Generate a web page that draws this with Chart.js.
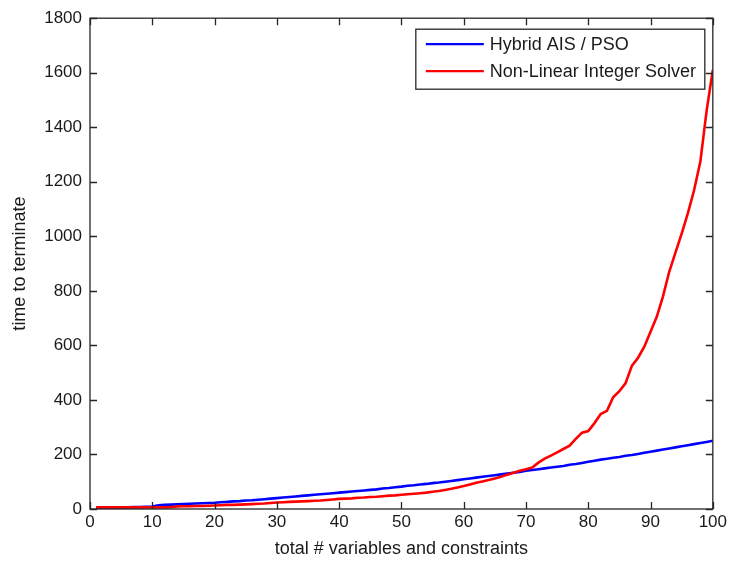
<!DOCTYPE html>
<html>
<head>
<meta charset="utf-8">
<script src="https://cdn.jsdelivr.net/npm/chart.js@4.4.0/dist/chart.umd.min.js"></script>
<style>
  html, body { margin: 0; padding: 0; background: #fff; }
</style>
</head>
<body>
<canvas id="timeChart" width="730" height="563"></canvas>
<script>
// total number of variables and constraints
const problemSize = [
    1, 2, 3, 4, 5, 6, 7, 8, 9, 10,
    11, 12, 13, 14, 15, 16, 17, 18, 19, 20,
    21, 22, 23, 24, 25, 26, 27, 28, 29, 30,
    31, 32, 33, 34, 35, 36, 37, 38, 39, 40,
    41, 42, 43, 44, 45, 46, 47, 48, 49, 50,
    51, 52, 53, 54, 55, 56, 57, 58, 59, 60,
    61, 62, 63, 64, 65, 66, 67, 68, 69, 70,
    71, 72, 73, 74, 75, 76, 77, 78, 79, 80,
    81, 82, 83, 84, 85, 86, 87, 88, 89, 90,
    91, 92, 93, 94, 95, 96, 97, 98, 99, 100
];

// time to terminate, Hybrid AIS / PSO
const hybridTime = [
    5, 5, 5, 6, 6, 6, 7, 7, 8, 9,
    14, 15, 16, 17, 18, 19, 20, 21, 22, 23,
    25, 26, 28, 29, 31, 32, 34, 36, 38, 40,
    42, 44, 46, 48, 50, 52, 54, 56, 58, 60,
    62, 64, 66, 68, 70, 72, 75, 77, 80, 82,
    85, 87, 90, 92, 95, 97, 100, 103, 106, 109,
    112, 115, 118, 121, 124, 127, 130, 133, 136, 140,
    143, 146, 149, 152, 155, 158, 162, 165, 169, 173,
    177, 181, 184, 188, 191, 195, 198, 202, 206, 210,
    214, 218, 222, 226, 230, 234, 238, 242, 246, 250
];

// time to terminate, Non-Linear Integer Solver
const solverTime = [
    6, 6, 6, 6, 6, 6, 6, 6, 6, 6,
    6, 6, 7, 9, 10, 10, 11, 11, 12, 13,
    14, 15, 15, 16, 17, 18, 19, 20, 22, 24,
    25, 26, 27, 28, 29, 30, 31, 33, 35, 37,
    38, 39, 41, 42, 44, 45, 47, 49, 50, 52,
    54, 56, 58, 60, 63, 66, 70, 74, 79, 84,
    90, 96, 101, 106, 112, 118, 126, 133, 140, 146,
    152, 170, 185, 196, 208, 220, 232, 257, 280, 286,
    315, 348, 360, 410, 432, 462, 525, 555, 595, 650,
    705, 780, 870, 940, 1010, 1085, 1170, 1274, 1460, 1610
];

const seriesNames = ['Hybrid AIS / PSO', 'Non-Linear Integer Solver'];
const seriesColors = ['#0000ff', '#ff0000'];

const xTicks = [0, 10, 20, 30, 40, 50, 60, 70, 80, 90, 100];
const yTicks = [0, 200, 400, 600, 800, 1000, 1200, 1400, 1600, 1800];

const FONT = '"Liberation Sans", Arial, Helvetica, sans-serif';
const INK = '#1a1a1a';
const TICK_LEN = 7;

function toPoints(values) {
    return problemSize.map((n, i) => ({ x: n, y: values[i] }));
}

// boxed axes with inward ticks on all four sides
const boxedAxes = {
    id: 'boxedAxes',
    afterDatasetsDraw(chart) {
        const { ctx, chartArea: a, scales: { x, y } } = chart;
        ctx.save();
        ctx.strokeStyle = '#262626';
        ctx.lineWidth = 1.3;
        ctx.strokeRect(a.left, a.top, a.right - a.left, a.bottom - a.top);
        ctx.beginPath();
        x.ticks.forEach(t => {
            const px = Math.round(x.getPixelForValue(t.value)) + 0.5;
            ctx.moveTo(px, a.bottom); ctx.lineTo(px, a.bottom - TICK_LEN);
            ctx.moveTo(px, a.top); ctx.lineTo(px, a.top + TICK_LEN);
        });
        y.ticks.forEach(t => {
            const py = Math.round(y.getPixelForValue(t.value)) + 0.5;
            ctx.moveTo(a.left, py); ctx.lineTo(a.left + TICK_LEN, py);
            ctx.moveTo(a.right, py); ctx.lineTo(a.right - TICK_LEN, py);
        });
        ctx.stroke();
        ctx.restore();
    }
};

// legend box in the upper right corner of the axes
const boxLegend = {
    id: 'boxLegend',
    afterDraw(chart) {
        const { ctx, chartArea: a } = chart;
        const w = 289, h = 60;
        const left = a.right - 8 - w, top = a.top + 11;
        ctx.save();
        ctx.fillStyle = '#fff';
        ctx.fillRect(left, top, w, h);
        ctx.strokeStyle = '#262626';
        ctx.lineWidth = 1.3;
        ctx.strokeRect(left, top, w, h);
        ctx.font = '18px ' + FONT;
        ctx.textBaseline = 'middle';
        chart.data.datasets.forEach((ds, i) => {
            const cy = top + 15 + i * 27;
            ctx.strokeStyle = ds.borderColor;
            ctx.lineWidth = 2.2;
            ctx.beginPath();
            ctx.moveTo(left + 10, cy);
            ctx.lineTo(left + 68, cy);
            ctx.stroke();
            ctx.fillStyle = INK;
            ctx.fillText(ds.label, left + 74, cy + 1);
        });
        ctx.restore();
    }
};

new Chart(document.getElementById('timeChart'), {
    type: 'line',
    data: {
        datasets: [
            {
                label: seriesNames[0],
                data: toPoints(hybridTime),
                borderColor: seriesColors[0],
                borderWidth: 2.6,
                pointRadius: 0,
                tension: 0,
                fill: false,
                order: 1
            },
            {
                label: seriesNames[1],
                data: toPoints(solverTime),
                borderColor: seriesColors[1],
                borderWidth: 2.6,
                pointRadius: 0,
                tension: 0,
                fill: false,
                order: 0
            }
        ]
    },
    options: {
        responsive: false,
        animation: false,
        layout: { padding: { top: 16, right: 15, left: 0, bottom: 0 } },
        plugins: {
            legend: { display: false },
            tooltip: { enabled: false }
        },
        scales: {
            x: {
                type: 'linear',
                min: 0,
                max: 100,
                afterBuildTicks: s => { s.ticks = xTicks.map(v => ({ value: v })); },
                afterFit: s => { s.height = 54; },
                grid: { display: false, drawTicks: false },
                border: { display: false },
                ticks: {
                    autoSkip: false,
                    maxRotation: 0,
                    padding: 3,
                    color: INK,
                    font: { family: FONT, size: 17 },
                    callback: v => String(v)
                },
                title: {
                    display: true,
                    text: 'total # variables and constraints',
                    color: INK,
                    font: { family: FONT, size: 18 },
                    padding: { top: 0, bottom: 3 }
                }
            },
            y: {
                type: 'linear',
                min: 0,
                max: 1800,
                afterBuildTicks: s => { s.ticks = yTicks.map(v => ({ value: v })); },
                afterFit: s => { s.width = 90; },
                grid: { display: false, drawTicks: false },
                border: { display: false },
                ticks: {
                    autoSkip: false,
                    padding: 8,
                    color: INK,
                    font: { family: FONT, size: 17 },
                    callback: v => String(v)
                },
                title: {
                    display: true,
                    text: 'time to terminate',
                    color: INK,
                    font: { family: FONT, size: 18 },
                    padding: { top: 9, bottom: 0 }
                }
            }
        }
    },
    plugins: [boxedAxes, boxLegend]
});
</script>
</body>
</html>
